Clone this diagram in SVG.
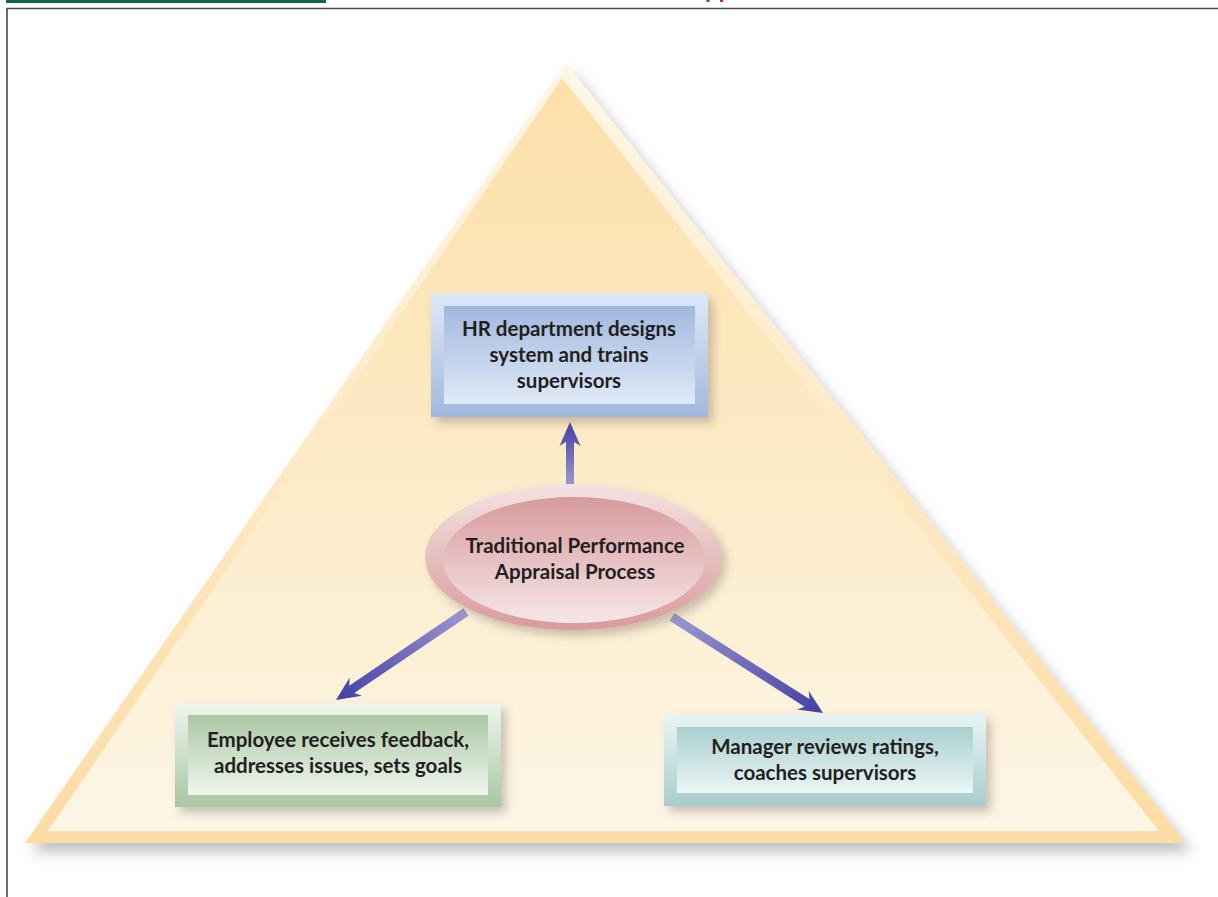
<svg xmlns="http://www.w3.org/2000/svg" width="1218" height="897" viewBox="0 0 1218 897">
<defs>
<style>
.lbl{font-family:Lato,"Open Sans","DejaVu Sans",sans-serif;font-weight:bold;font-size:20.5px;fill:#231f20;text-anchor:middle}
</style>
<filter id="sh" x="-10%" y="-10%" width="125%" height="135%"><feDropShadow dx="5" dy="6" stdDeviation="5" flood-color="#6a6060" flood-opacity="0.35"/></filter>
<filter id="tsh" x="-5%" y="-5%" width="112%" height="115%"><feDropShadow dx="6" dy="9" stdDeviation="7" flood-color="#5a5f70" flood-opacity="0.4"/></filter>
<linearGradient id="triOut" x1="0" y1="0" x2="0" y2="1"><stop offset="0" stop-color="#fdf7e6"/><stop offset="1" stop-color="#fddca4"/></linearGradient>
<linearGradient id="triIn" x1="0" y1="0" x2="0" y2="1"><stop offset="0" stop-color="#fddfa9"/><stop offset="0.6" stop-color="#fcedcc"/><stop offset="1" stop-color="#fdf6e6"/></linearGradient>
<linearGradient id="blueOut" x1="0" y1="0" x2="0" y2="1"><stop offset="0" stop-color="#dde9f6"/><stop offset="1" stop-color="#a1b8de"/></linearGradient>
<linearGradient id="blueIn" x1="0" y1="0" x2="0" y2="1"><stop offset="0" stop-color="#a0b7dd"/><stop offset="1" stop-color="#dfeaf7"/></linearGradient>
<linearGradient id="greenOut" x1="0" y1="0" x2="0" y2="1"><stop offset="0" stop-color="#eff6ee"/><stop offset="1" stop-color="#aac6a2"/></linearGradient>
<linearGradient id="greenIn" x1="0" y1="0" x2="0" y2="1"><stop offset="0" stop-color="#abc7a3"/><stop offset="1" stop-color="#eff6ee"/></linearGradient>
<linearGradient id="tealOut" x1="0" y1="0" x2="0" y2="1"><stop offset="0" stop-color="#e9f4f4"/><stop offset="1" stop-color="#a9cdcd"/></linearGradient>
<linearGradient id="tealIn" x1="0" y1="0" x2="0" y2="1"><stop offset="0" stop-color="#aacfcf"/><stop offset="1" stop-color="#ebf5f5"/></linearGradient>
<linearGradient id="pinkOut" x1="0" y1="0" x2="0" y2="1"><stop offset="0" stop-color="#f4e2e2"/><stop offset="1" stop-color="#d99a9b"/></linearGradient>
<linearGradient id="pinkIn" x1="0" y1="0" x2="0" y2="1"><stop offset="0" stop-color="#d79a9b"/><stop offset="1" stop-color="#f6e6e8"/></linearGradient>
<linearGradient id="arr" x1="0" y1="0" x2="1" y2="0"><stop offset="0" stop-color="#9c98cf"/><stop offset="0.55" stop-color="#6a66b8"/><stop offset="1" stop-color="#4440a4"/></linearGradient>
</defs>
<rect x="0" y="0" width="1218" height="897" fill="#ffffff"/>
<g id="header">
<rect x="6" y="0" width="320" height="3" fill="#0e6a45"/>
<text x="705" y="-3" font-family="Liberation Sans, sans-serif" font-weight="bold" font-size="22" fill="#b0303a">pp</text>
<path d="M7,897 V8.5 H1218" fill="none" stroke="#4a4a4a" stroke-width="1.6"/>
</g>
<g id="triangle">
<polygon points="566,63 25,843 1186,843" fill="url(#triOut)" filter="url(#tsh)"/>
<polygon points="562,78 48,831 1159,831" fill="url(#triIn)"/>
</g>
<g id="connectors">
<path transform="translate(570,485) rotate(-90)" d="M0,-4 L43,-4 L39,-10.5 L63,0 L39,10.5 L43,4 L0,4 Z" fill="url(#arr)"/>
<path transform="translate(466,612) rotate(145.9)" d="M0,-4.5 L138,-4.5 L133,-11 L157,0 L133,11 L138,4.5 L0,4.5 Z" fill="url(#arr)"/>
<path transform="translate(672,617) rotate(32.45)" d="M0,-4.5 L160,-4.5 L155,-11 L179,0 L155,11 L160,4.5 L0,4.5 Z" fill="url(#arr)"/>
</g>
<g id="hr">
<rect x="431" y="293" width="277" height="124" fill="url(#blueOut)" filter="url(#sh)"/>
<rect x="444" y="306" width="251" height="98" fill="url(#blueIn)"/>
<text class="lbl" x="569" y="336">HR department designs</text>
<text class="lbl" x="569" y="362">system and trains</text>
<text class="lbl" x="569" y="388">supervisors</text>
</g>
<g id="process">
<ellipse cx="573" cy="557" rx="148" ry="73" fill="url(#pinkOut)" filter="url(#sh)"/>
<ellipse cx="574" cy="560" rx="131" ry="63" fill="url(#pinkIn)"/>
<text class="lbl" x="575" y="553">Traditional Performance</text>
<text class="lbl" x="575" y="579">Appraisal Process</text>
</g>
<g id="employee">
<rect x="175" y="703" width="326" height="104" fill="url(#greenOut)" filter="url(#sh)"/>
<rect x="188" y="715" width="300" height="80" fill="url(#greenIn)"/>
<text class="lbl" x="338" y="747">Employee receives feedback,</text>
<text class="lbl" x="338" y="773">addresses issues, sets goals</text>
</g>
<g id="manager">
<rect x="664" y="714" width="322" height="92" fill="url(#tealOut)" filter="url(#sh)"/>
<rect x="677" y="727" width="296" height="66" fill="url(#tealIn)"/>
<text class="lbl" x="825" y="754">Manager reviews ratings,</text>
<text class="lbl" x="825" y="780">coaches supervisors</text>
</g>
</svg>
